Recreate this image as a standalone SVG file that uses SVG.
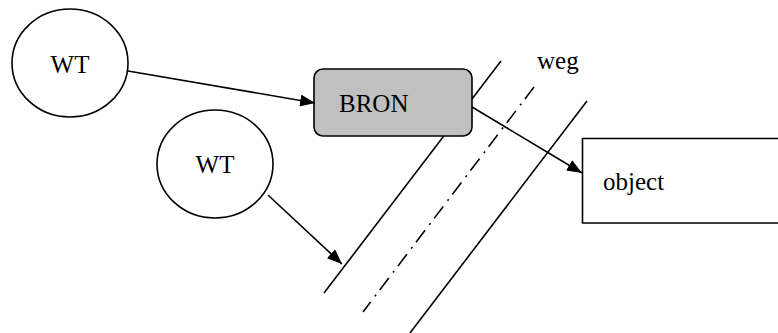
<svg xmlns="http://www.w3.org/2000/svg" width="778" height="333" viewBox="0 0 778 333">
<style>
.s{fill:none;stroke:#000;stroke-width:1.6}
.t{font-family:"Liberation Serif","Times New Roman",serif;font-size:25px;fill:#000}
.c{stroke:#000;stroke-width:1.6;fill:none}
</style>
<defs>
<marker id="ah" viewBox="0 0 15 12" refX="15" refY="6" markerWidth="15" markerHeight="12" markerUnits="userSpaceOnUse" orient="auto">
<path d="M0,0 L15,6 L0,12 z" fill="#000"/>
</marker>
</defs>
<rect width="778" height="333" fill="#fff"/>
<g id="road">
<line class="s" x1="501" y1="61" x2="324" y2="293"/>
<line class="s" x1="587" y1="101" x2="410" y2="333"/>
<line class="s" x1="534" y1="87" x2="363" y2="312" stroke-dasharray="15 6 2 7"/>
<text class="t" x="537" y="69">weg</text>
</g>
<g id="wt1">
<ellipse class="c" cx="70" cy="63" rx="58" ry="54"/>
<text class="t" x="70" y="73" text-anchor="middle">WT</text>
</g>
<g id="wt2">
<ellipse class="c" cx="215" cy="164" rx="58" ry="54"/>
<text class="t" x="215" y="173" text-anchor="middle">WT</text>
</g>
<g id="bron">
<rect x="314" y="69" width="158" height="67" rx="9" ry="9" fill="#c0c0c0" stroke="#000" stroke-width="1.6"/>
<text class="t" x="339" y="112">BRON</text>
</g>
<g id="object">
<path class="s" d="M790,138.5 H582.5 V223 H790"/>
<text class="t" x="603" y="190">object</text>
</g>
<g id="connectors">
<line class="s" x1="128" y1="71" x2="315" y2="103" marker-end="url(#ah)"/>
<line class="s" x1="268" y1="195" x2="342" y2="264" marker-end="url(#ah)"/>
<line class="s" x1="472" y1="107" x2="582" y2="173" marker-end="url(#ah)"/>
</g>
</svg>
